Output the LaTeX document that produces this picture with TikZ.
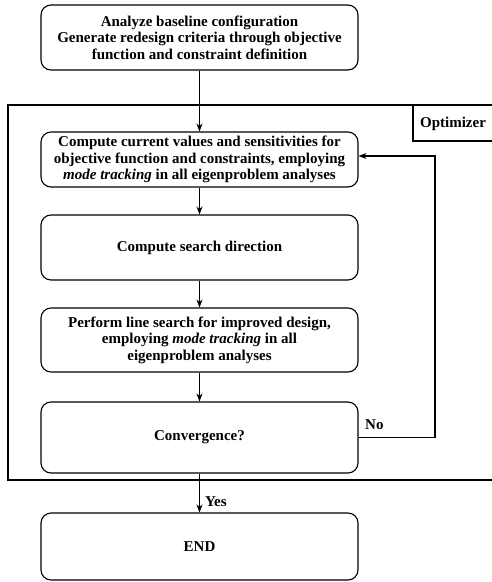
\documentclass[tikz,border=0pt]{standalone}
\usepackage{fontspec}
\setmainfont{Liberation Serif}
\usetikzlibrary{arrows.meta}
\begin{document}
\begin{tikzpicture}[x=1pt,y=-1pt,
  box/.style={draw,line width=1.1pt,rounded corners=10pt,minimum width=317pt,align=center,
    font=\fontsize{15}{16.5}\selectfont\bfseries,inner sep=1pt},
  flow/.style={line width=1.1pt,-{Stealth[length=8pt,width=6pt]}},
  lbl/.style={font=\fontsize{15}{16.5}\selectfont\bfseries,inner sep=1pt}]
\useasboundingbox (0,0) rectangle (491,582);
\fill[white] (0,0) rectangle (491,582);
% outer optimizer frame
\draw[line width=1.1pt] (495,105) -- (8,105) -- (8,480) -- (495,480);
\draw[line width=1.1pt] (495,141) -- (413,141) -- (413,105);
\node[lbl] (opt) at (453,124) {Optimizer};
% boxes
\node[box,minimum height=65pt] (b1) at (199.5,37.5) {Analyze baseline configuration\\Generate redesign criteria through objective\\function and constraint definition};
\node[box,minimum height=55pt] (b2) at (199.5,159.5) {Compute current values and sensitivities for\\objective function and constraints, employing\\\textit{mode tracking} in all eigenproblem analyses};
\node[box,minimum height=65pt] (b3) at (199.5,247.5) {Compute search direction};
\node[box,minimum height=64pt] (b4) at (199.5,340) {Perform line search for improved design,\\employing \textit{mode tracking} in all\\eigenproblem analyses};
\node[box,minimum height=71pt] (b5) at (199.5,437.5) {Convergence?};
\node[box,minimum height=67pt] (b6) at (199.5,546.5) {END};
% connectors
\draw[flow] (b1) -- (b2);
\draw[flow] (b2) -- (b3);
\draw[flow] (b3) -- (b4);
\draw[flow] (b4) -- (b5);
\draw[flow] (b5) -- (b6) node[lbl,pos=0.72,anchor=west,xshift=4pt] (yes) {Yes};
\coordinate (c1) at (435,437.5);
\coordinate (c2) at (435,156);
\draw[flow] (b5.east) -- (c1) -- (c2) -- (b2.east |- c2);
\node[lbl,anchor=south west] (no) at (364,431) {No};
\end{tikzpicture}
\end{document}
